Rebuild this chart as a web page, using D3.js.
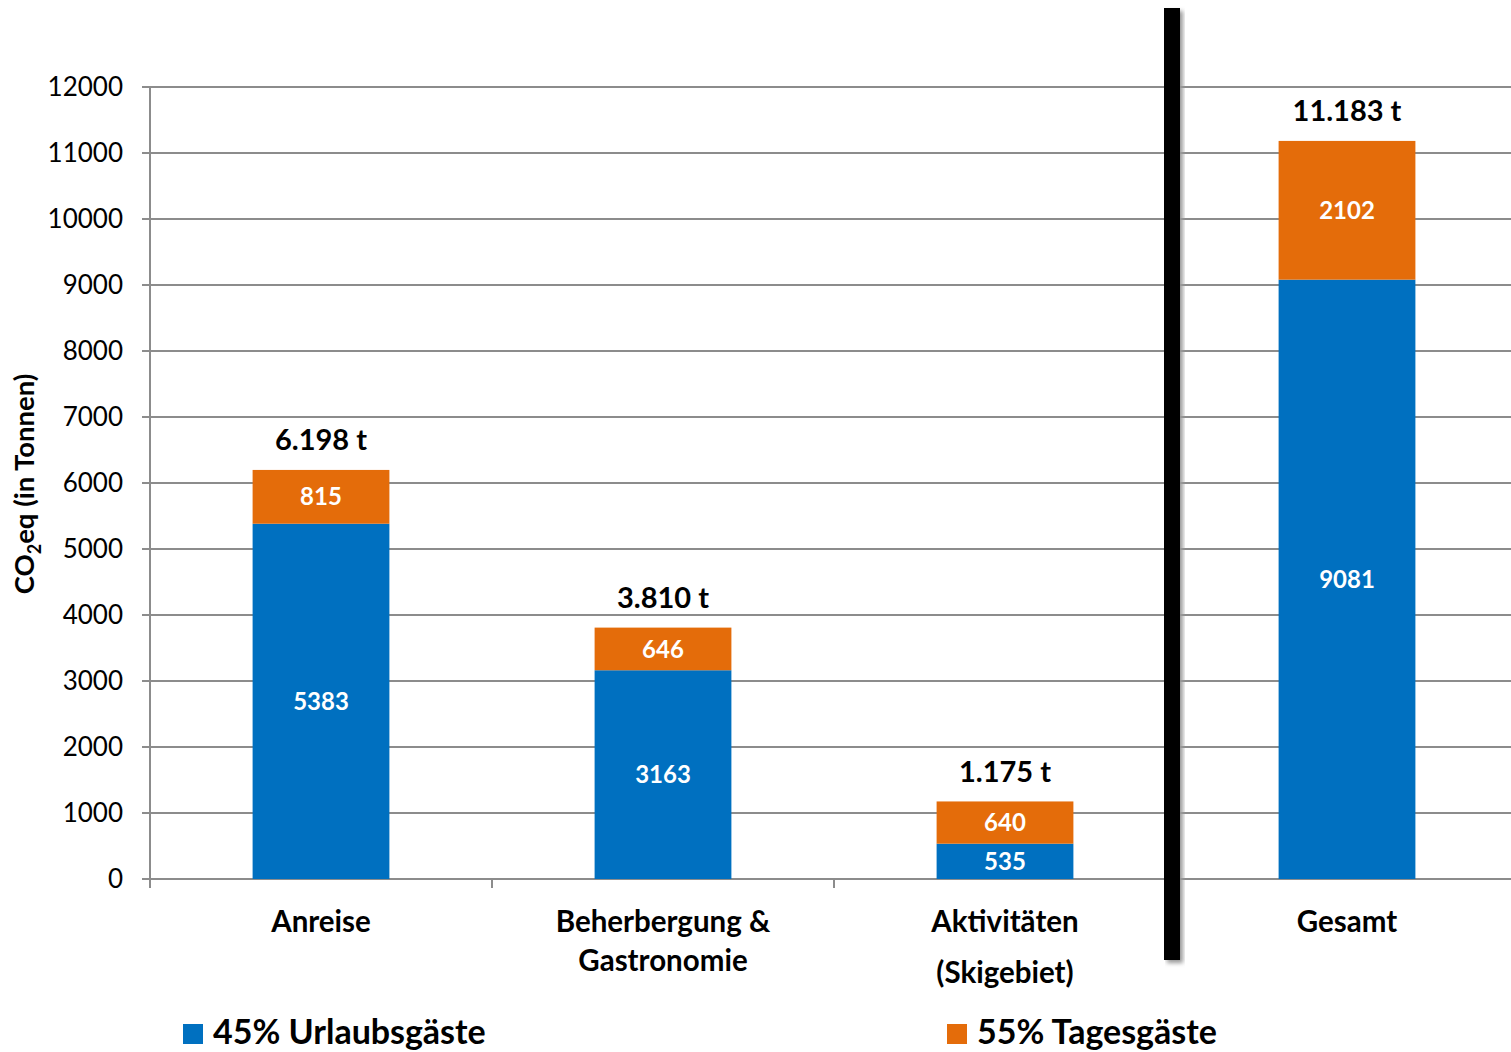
<!DOCTYPE html>
<html>
<head>
<meta charset="utf-8">
<script src="https://cdn.jsdelivr.net/npm/d3@7"></script>
<style>
  body { margin: 0; background: #fff; }
  text { font-family: Lato, "Open Sans", sans-serif; }
</style>
</head>
<body>
<div id="chart"></div>
<script>
// data
const categories = ["Anreise", "Beherbergung & Gastronomie", "Aktivitäten (Skigebiet)", "Gesamt"];
const catLines = [["Anreise"], ["Beherbergung &", "Gastronomie"], ["Aktivitäten", "(Skigebiet)"], ["Gesamt"]];
const urlaub = [5383, 3163, 535, 9081];
const tages = [815, 646, 640, 2102];
const totals = ["6.198 t", "3.810 t", "1.175 t", "11.183 t"];
const seriesNames = ["45% Urlaubsgäste", "55% Tagesgäste"];
const yTicks = d3.range(0, 12001, 1000);

const W = 1511, H = 1052;
const blue = "#0070C0", orange = "#E46C0A";

const svg = d3.select("#chart").append("svg")
    .attr("width", W).attr("height", H);

const x = d3.scaleBand().domain(categories).range([150, 1518]).padding(0);
const y = d3.scaleLinear().domain([0, 12000]).range([879, 87]);
const barW = x.bandwidth() * 0.4;

// gridlines + y labels
svg.append("g").selectAll("line").data(yTicks).enter().append("line")
    .attr("x1", 142).attr("x2", W)
    .attr("y1", d => y(d)).attr("y2", d => y(d))
    .attr("stroke", "#8c8c8c").attr("stroke-width", 2);

svg.append("g").selectAll("text").data(yTicks).enter().append("text")
    .attr("x", 123).attr("y", d => y(d))
    .attr("dy", "0.36em")
    .attr("text-anchor", "end")
    .style("font-size", "26px")
    .text(d => d);

// y axis line
svg.append("line").attr("x1", 150).attr("x2", 150).attr("y1", y(12000)).attr("y2", 888)
    .attr("stroke", "#8c8c8c").attr("stroke-width", 2);

// category ticks
svg.append("g").selectAll("line").data(categories).enter().append("line")
    .attr("x1", d => x(d)).attr("x2", d => x(d))
    .attr("y1", 879).attr("y2", 888)
    .attr("stroke", "#8c8c8c").attr("stroke-width", 2);

// stacked bars
const rows = categories.map((c, i) => ({cat: c, u: urlaub[i], t: tages[i], total: totals[i], lines: catLines[i]}));
const bars = svg.append("g").selectAll("g").data(rows).enter().append("g");

bars.append("rect")
    .attr("x", d => x(d.cat) + (x.bandwidth() - barW) / 2)
    .attr("width", barW)
    .attr("y", d => y(d.u))
    .attr("height", d => y(0) - y(d.u))
    .attr("fill", blue);

bars.append("rect")
    .attr("x", d => x(d.cat) + (x.bandwidth() - barW) / 2)
    .attr("width", barW)
    .attr("y", d => y(d.u + d.t))
    .attr("height", d => y(d.u) - y(d.u + d.t))
    .attr("fill", orange);

bars.append("text")
    .attr("x", d => x(d.cat) + x.bandwidth() / 2)
    .attr("y", d => (y(0) + y(d.u)) / 2)
    .attr("dy", "0.36em").attr("text-anchor", "middle")
    .attr("fill", "#fff").style("font-weight", "bold").style("font-size", "24px")
    .text(d => d.u);

bars.append("text")
    .attr("x", d => x(d.cat) + x.bandwidth() / 2)
    .attr("y", d => (y(d.u) + y(d.u + d.t)) / 2)
    .attr("dy", "0.36em").attr("text-anchor", "middle")
    .attr("fill", "#fff").style("font-weight", "bold").style("font-size", "24px")
    .text(d => d.t);

bars.append("text")
    .attr("x", d => x(d.cat) + x.bandwidth() / 2)
    .attr("y", d => y(d.u + d.t) - 30)
    .attr("dy", "0.36em").attr("text-anchor", "middle")
    .style("font-weight", "bold").style("font-size", "29px")
    .text(d => d.total);

// category labels
const lineGap = [0, 39, 51, 0];
bars.each(function(d, i) {
    const g = d3.select(this);
    d.lines.forEach((ln, j) => {
        g.append("text")
            .attr("x", x(d.cat) + x.bandwidth() / 2)
            .attr("y", 921 + j * lineGap[i])
            .attr("dy", "0.36em").attr("text-anchor", "middle")
            .style("font-weight", "bold").style("font-size", "29.5px")
            .text(ln);
    });
});

// black divider with shadow
const defs = svg.append("defs");
defs.append("filter").attr("id", "blur").append("feGaussianBlur").attr("stdDeviation", 2);
svg.append("rect").attr("x", 1167).attr("y", 11).attr("width", 16).attr("height", 952)
    .attr("fill", "#999").attr("filter", "url(#blur)");
svg.append("rect").attr("x", 1164).attr("y", 8).attr("width", 16).attr("height", 952)
    .attr("fill", "#000");

// y title
svg.append("text")
    .attr("transform", "translate(34,484) rotate(-90)")
    .attr("text-anchor", "middle")
    .style("font-weight", "bold").style("font-size", "27.5px")
    .call(t => {
        t.append("tspan").text("CO");
        t.append("tspan").attr("dy", 7).style("font-size", "18px").text("2");
        t.append("tspan").attr("dy", -7).text("eq (in Tonnen)");
    });

// legend
const legX = [183, 947];
const leg = svg.append("g").selectAll("g").data(seriesNames).enter().append("g")
    .attr("transform", (d, i) => `translate(${legX[i]},1024)`);
leg.append("rect").attr("width", 20).attr("height", 20)
    .attr("fill", (d, i) => i === 0 ? blue : orange);
leg.append("text").attr("x", 30).attr("y", 8).attr("dy", "0.36em")
    .style("font-weight", "bold").style("font-size", "34px")
    .text(d => d);
</script>
</body>
</html>
